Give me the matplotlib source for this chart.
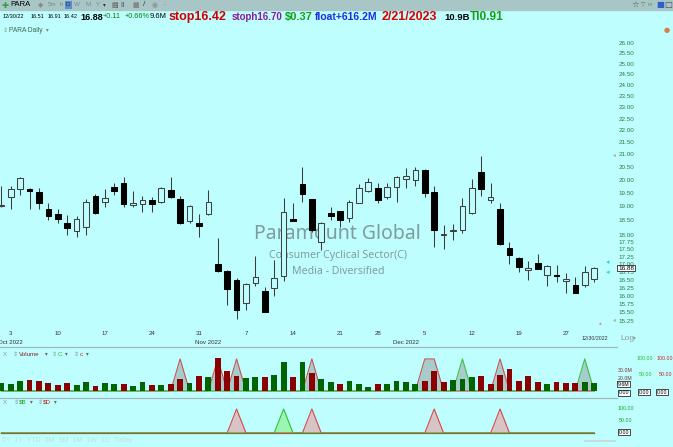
import numpy as np
import matplotlib
matplotlib.use('Agg')
import matplotlib.pyplot as plt
from matplotlib.ticker import FixedLocator, NullLocator
from matplotlib.patches import Rectangle

plt.rcParams['font.family'] = ['Liberation Sans', 'DejaVu Sans']

W, H = 673, 447
BG = '#bffefe'

# daily candles, Sep 30 2022 .. Dec 30 2022
opens = [19.03, 19.36, 19.64, 19.63, 19.55, 18.90, 18.71, 18.39, 18.11, 18.27,
         19.39, 19.16, 19.73, 19.87, 19.04, 19.08, 19.22, 19.16, 19.61, 19.28,
         18.46, 18.39, 18.72, 17.00, 16.79, 16.49, 15.77, 16.39, 16.16, 16.23,
         16.63, 18.53, 19.82, 19.26, 17.75, 18.75, 18.84, 18.57, 19.12, 19.58,
         19.67, 19.36, 19.73, 20.02, 19.99, 20.36, 19.52, 18.00, 18.11, 18.16,
         18.77, 20.30, 19.24, 18.91, 17.53, 17.22, 16.81, 17.05, 16.64, 16.63,
         16.46, 16.35, 16.33, 16.51]
highs = [19.76, 19.76, 20.10, 19.70, 19.70, 19.12, 18.90, 18.68, 18.65, 19.26,
         19.45, 19.63, 19.86, 20.10, 19.57, 19.38, 19.36, 19.72, 20.10, 19.38,
         19.05, 18.72, 19.61, 17.87, 16.80, 16.55, 16.39, 17.27, 16.28, 17.14,
         19.30, 19.12, 20.51, 19.26, 18.45, 18.99, 18.84, 19.24, 19.82, 20.06,
         19.86, 19.86, 20.15, 20.45, 20.49, 20.41, 19.76, 18.34, 18.37, 19.30,
         20.02, 20.92, 19.89, 19.12, 17.73, 17.24, 17.09, 17.33, 16.96, 16.97,
         16.72, 16.59, 16.95, 16.91]
lows = [18.99, 18.92, 19.42, 18.92, 18.92, 18.51, 18.42, 17.99, 17.92, 17.99,
        18.74, 18.97, 19.42, 18.99, 18.99, 18.81, 18.81, 19.14, 19.30, 18.37,
        18.42, 17.92, 18.68, 16.76, 15.72, 15.29, 15.57, 16.30, 15.50, 16.00,
        16.46, 18.49, 19.18, 18.10, 17.47, 18.51, 18.25, 18.45, 19.12, 19.55,
        19.12, 19.26, 19.18, 19.67, 19.76, 19.34, 17.59, 17.49, 17.81, 18.04,
        18.72, 19.38, 19.12, 17.63, 17.00, 16.76, 16.49, 16.83, 16.30, 16.44,
        16.07, 16.07, 16.28, 16.42]
closes = [19.06, 19.63, 20.06, 19.56, 19.12, 18.65, 18.56, 18.24, 18.53, 19.16,
          18.76, 19.30, 19.58, 19.09, 19.12, 19.23, 19.10, 19.67, 19.34, 18.39,
          19.01, 18.31, 19.16, 16.78, 16.21, 15.57, 16.36, 16.58, 15.52, 16.55,
          18.81, 18.49, 19.45, 18.14, 18.39, 18.65, 18.51, 19.16, 19.67, 19.90,
          19.24, 19.73, 20.10, 20.16, 20.36, 19.51, 18.14, 18.02, 18.15, 19.01,
          19.67, 19.64, 19.36, 17.67, 17.30, 16.91, 16.88, 16.85, 16.94, 16.62,
          16.52, 16.10, 16.76, 16.88]
# volume, millions of shares
volumes = [12.3, 11.3, 14.9, 16.4, 14.9, 12.3, 8.7, 12.3, 9.2, 14.4,
           7.2, 12.3, 10.3, 10.3, 8.2, 13.3, 9.7, 9.7, 11.3, 17.9,
           12.3, 23.6, 21.0, 50.8, 30.3, 23.6, 20.0, 21.5, 21.0, 25.1,
           44.1, 21.0, 44.1, 27.7, 19.0, 14.4, 11.3, 15.9, 11.3, 6.2,
           10.8, 10.8, 15.4, 13.8, 10.3, 15.9, 30.3, 14.4, 16.4, 18.5,
           21.0, 23.6, 11.3, 24.6, 34.4, 15.9, 22.6, 13.8, 11.3, 13.3,
           12.3, 12.3, 14.4, 12.3]
# signal days (bar index) for the 0/100 indicators
C_days = [49, 62]
c_days = [19, 23, 25, 33, 45, 46, 53]
B_days = [30]
D_days = [25, 33, 46, 53]

day_idx = [1, 6, 11, 16, 21, 26, 31, 36, 40, 45, 50, 55, 60]
day_labels = ['3', '10', '17', '24', '31', '7', '14', '21', '28', '5', '12', '19', '27']
month_idx = [1, 22, 43]
month_labels = ['Oct 2022', 'Nov 2022', 'Dec 2022']

price_ticks = [26.0, 25.5, 25.0, 24.5, 24.0, 23.5, 23.0, 22.5, 22.0, 21.5, 21.0,
               20.5, 20.0, 19.5, 19.0, 18.5, 18.0, 17.75, 17.5, 17.25, 17.0,
               16.75, 16.5, 16.25, 16.0, 15.75, 15.5, 15.25]


def rect(x0, y0, x1, y1):
    return [x0 / W, 1 - y1 / H, (x1 - x0) / W, (y1 - y0) / H]


def ftext(x, y, s, **kw):
    kw.setdefault('va', 'center')
    fig.text(x / W, 1 - y / H, s, **kw)


def signal(days, n):
    s = np.zeros(n)
    s[days] = 100
    return s


n = len(closes)
x = np.arange(n)
o = np.array(opens)
c = np.array(closes)
XLIM = (-0.14, 63.62)

fig = plt.figure(figsize=(W / 100, H / 100), dpi=100, facecolor=BG)

# toolbar strip
fig.patches.append(Rectangle((0, 1 - 10 / H), 1, 10 / H, transform=fig.transFigure,
                             color='#a9c6c6', zorder=0))

# ---- price panel
ax = fig.add_axes(rect(0, 35, 600, 325))
ax.set_facecolor('none')
ax.set_yscale('log')
ax.set_xlim(*XLIM)
ax.set_ylim(15.125, 26.42)
ax.vlines(x, lows, highs, color='#3c3c3c', lw=0.75, zorder=2)
up = c >= o
bot = np.minimum(o, c)
hgt = np.maximum(np.abs(c - o), 0.02)
ax.bar(x, hgt, bottom=bot, width=0.6,
       color=[BG if u else 'black' for u in up],
       edgecolor=['#404040' if u else 'black' for u in up], linewidth=0.75, zorder=3)
ax.yaxis.tick_right()
ax.yaxis.set_major_locator(FixedLocator(price_ticks))
ax.yaxis.set_minor_locator(NullLocator())
ax.set_yticklabels(['%.2f' % t for t in price_ticks])
ax.tick_params(axis='y', length=0, pad=13.5, labelsize=4.5, labelcolor='#23803f')
ax.set_xticks(day_idx)
ax.set_xticklabels(day_labels)
ax.tick_params(axis='x', length=0, pad=4.5, labelsize=4.4, labelcolor='#333333')
for s in ax.spines.values():
    s.set_visible(False)
for i, lab in zip(month_idx, month_labels):
    ax.text(i, -0.06, lab, transform=ax.get_xaxis_transform(), ha='center', va='center',
            fontsize=4.4, color='#333333')

# watermark
ax.text(0.563, 0.314, 'Paramount Global', transform=ax.transAxes, ha='center', va='center',
        fontsize=14, color='#7f9c9c', family='Noto Sans', zorder=1)
ax.text(0.563, 0.238, 'Consumer Cyclical Sector(C)', transform=ax.transAxes, ha='center',
        va='center', fontsize=7.6, color='#7f9c9c', family='Noto Sans', zorder=1)
ax.text(0.563, 0.183, 'Media - Diversified', transform=ax.transAxes, ha='center',
        va='center', fontsize=7.6, color='#7f9c9c', family='Noto Sans', zorder=1)

# last price marker
ftext(618, 268, '%.2f' % closes[-1], fontsize=4.6, color='black', zorder=10,
      bbox=dict(boxstyle='square,pad=0.15', fc='white', ec='black', lw=0.5))
ftext(606, 263, '\u25c2', fontsize=5, color='#20d8e0')
ftext(606, 273, '\u25c2', fontsize=5, color='#20d8e0')
ftext(613, 155, '\u25c2', fontsize=4, color='#b0a0a0')
ftext(613, 320, '\u25c2', fontsize=4, color='#b0a0a0')
ftext(599, 323, '\u25b4', fontsize=4, color='#b0a0a0')
ftext(582, 338, '12/30/2022', fontsize=3.8, color='#333333')
ftext(620, 338, 'Log', fontsize=6, color='#8a9a9a')
ftext(633, 338, '\u25be', fontsize=4, color='#8a9a9a')

# separators
for yy in (347, 398):
    fig.add_artist(plt.Line2D([0, 617 / W], [1 - yy / H] * 2, color='#a2b8b8', lw=0.9))

# ---- volume panel with C / c indicators
ax_i = fig.add_axes(rect(0, 349, 600, 395))
ax_i.set_xlim(*XLIM)
ax_i.set_ylim(-12.5, 131)
ax_i.axis('off')
for days, col in ((c_days, '#d05050'), (C_days, '#40c040')):
    s = signal(days, n)
    ax_i.fill_between(x, 0, s, color='#a6cccc', lw=0)
    ax_i.plot(x, s, color=col, lw=0.8)

ax_v = fig.add_axes(rect(0, 349, 600, 395))
ax_v.set_facecolor('none')
ax_v.set_xlim(*XLIM)
ax_v.set_ylim(-6.15, 64.6)
vcol = ['#006400' if i == 0 or closes[i] >= closes[i - 1] else '#8b0000' for i in range(n)]
ax_v.bar(x, volumes, width=0.62, color=vcol, zorder=3)
ax_v.axis('off')

ftext(3, 354, 'X', fontsize=4.5, color='#8a9a9a')
ftext(13, 354, '\u21d5', fontsize=4.5, color='#8a9a9a', family='DejaVu Sans')
ftext(19, 354, 'Volume', fontsize=4.5, color='#8b2020')
ftext(45, 354, '\u25be', fontsize=4, color='#666666', family='DejaVu Sans')
ftext(52, 354, '\u21d5', fontsize=4.5, color='#8a9a9a', family='DejaVu Sans')
ftext(58, 354, 'C', fontsize=4.5, color='#20c020')
ftext(65, 354, '\u25be', fontsize=4, color='#666666', family='DejaVu Sans')
ftext(74, 354, '\u21d5', fontsize=4.5, color='#8a9a9a', family='DejaVu Sans')
ftext(80, 354, 'c', fontsize=4.5, color='#d02020')
ftext(86, 354, '\u25be', fontsize=4, color='#666666', family='DejaVu Sans')

ftext(618, 371, '30.0M', fontsize=3.8, color='#7a3030')
ftext(618, 378, '20.0M', fontsize=3.8, color='#7a3030')
ftext(618, 384, '%.1fM' % 9.6, fontsize=3.8, color='black',
      bbox=dict(boxstyle='square,pad=0.15', fc='white', ec='black', lw=0.5))
ftext(619, 393, '0.00', fontsize=3.8, color='black',
      bbox=dict(boxstyle='square,pad=0.15', fc='white', ec='black', lw=0.5))
ftext(637, 359, '100.00', fontsize=3.8, color='#20c020')
ftext(639, 375, '50.00', fontsize=3.8, color='#20c020')
ftext(639, 392, '0.00', fontsize=3.8, color='black',
      bbox=dict(boxstyle='square,pad=0.15', fc='white', ec='black', lw=0.5))
ftext(657, 359, '100.00', fontsize=3.8, color='#d02020')
ftext(659, 375, '50.00', fontsize=3.8, color='#d02020')
ftext(657, 392, '0.00', fontsize=3.8, color='black',
      bbox=dict(boxstyle='square,pad=0.15', fc='white', ec='black', lw=0.5))

# ---- $B / $D panel
ax_b = fig.add_axes(rect(0, 400, 600, 437))
ax_b.set_facecolor('none')
ax_b.set_xlim(*XLIM)
ax_b.set_ylim(-16.7, 137.5)
ax_b.axis('off')
for days, col, fc in ((D_days, '#d84848', '#d6c4c6'), (B_days, '#30c030', '#9cf5b2')):
    s = signal(days, n)
    ax_b.fill_between(x, 0, s, color=fc, lw=0)
    ax_b.plot(x, s, color=col, lw=0.8)
ax_b.plot(x, np.zeros(n), color='#8a6a30', lw=0.9)

ftext(3, 402, 'X', fontsize=4.5, color='#8a9a9a')
ftext(14, 402, '\u21d5', fontsize=4.5, color='#8a9a9a', family='DejaVu Sans')
ftext(19, 402, '$B', fontsize=4.5, color='#20a020')
ftext(30, 402, '\u25be', fontsize=4, color='#666666', family='DejaVu Sans')
ftext(38, 402, '\u21d5', fontsize=4.5, color='#8a9a9a', family='DejaVu Sans')
ftext(43, 402, '$D', fontsize=4.5, color='#c02020')
ftext(54, 402, '\u25be', fontsize=4, color='#666666', family='DejaVu Sans')
ftext(618, 409, '100.00', fontsize=3.8, color='#20a020')
ftext(619, 421, '50.00', fontsize=3.8, color='#20a020')
ftext(619, 432, '0.00', fontsize=3.8, color='black',
      bbox=dict(boxstyle='square,pad=0.15', fc='white', ec='black', lw=0.5))

ftext(2, 441, '5Y  1Y  YTD  6M  3M  1M  1W  1D  Today', fontsize=5, color='#c4dcdc')
fig.add_artist(plt.Line2D([585 / W, 615 / W], [1 - 441 / H] * 2, color='#c8d4d4', lw=1.2))

# ---- toolbar and info rows
ftext(1, 5, '\u271a', fontsize=6, color='#30a030', family='DejaVu Sans')
ftext(10, 5, 'PARA', fontsize=5.5, color='black')
ftext(38, 5, '\u25c6', fontsize=5, color='#8a8a8a', family='DejaVu Sans')
ftext(48, 5, '5m', fontsize=4.5, color='#7a8a8a')
ftext(60, 5, 'h', fontsize=4.5, color='#7a8a8a')
ftext(66, 5, 'D', fontsize=4.5, color='#203040',
      bbox=dict(boxstyle='square,pad=0.2', fc='#5a8ed0', ec='none'))
ftext(74, 5, 'W', fontsize=4.5, color='#7a8a8a')
ftext(85, 5, 'M', fontsize=4.5, color='#7a8a8a')
ftext(96, 5, 'Y', fontsize=4.5, color='#7a8a8a')
ftext(103, 5, '\u25be', fontsize=4, color='#333333', family='DejaVu Sans')
ftext(111, 5, '\u25a4', fontsize=5, color='#505050', family='DejaVu Sans')
ftext(120, 5, '\u2161', fontsize=5, color='#505050', family='DejaVu Sans')
ftext(132, 5, '\u25a6', fontsize=5, color='#707070', family='DejaVu Sans')
ftext(143, 5, '/', fontsize=6, color='#404040')
ftext(152, 5, '\u25c9', fontsize=5, color='#909090', family='DejaVu Sans')
ftext(162, 5, '\u2058', fontsize=5, color='#909090', family='DejaVu Sans')
ftext(631, 5, '\u2606', fontsize=6, color='#505050', family='DejaVu Sans')
ftext(641, 5, '\u25bd', fontsize=4, color='#707070', family='DejaVu Sans')
ftext(648, 5, 'RT', fontsize=3, color='#30a030')
ftext(656, 5, '\u25a0', fontsize=6, color='#3060d0', family='DejaVu Sans')
ftext(664, 5, '\u25a1', fontsize=6, color='#505050', family='DejaVu Sans')

info = [
    (3, '12/30/22', 'black', 4.0, 'normal'),
    (31, '%.2f' % opens[-1], 'black', 4.0, 'normal'),
    (48, '%.2f' % highs[-1], 'black', 4.0, 'normal'),
    (64, '%.2f' % lows[-1], 'black', 4.0, 'normal'),
    (80, '%.2f' % closes[-1], 'black', 6.5, 'bold'),
    (103, '+0.11', '#008000', 5.2, 'normal'),
    (125, '+0.66%', '#008000', 5.2, 'normal'),
    (150, '9.6M', 'black', 5.4, 'normal'),
    (169, 'stop16.42', '#d00000', 9.0, 'bold'),
    (232, 'stoph16.70', '#8a1c9c', 7.0, 'bold'),
    (285, '$0.37', '#14a014', 8.0, 'bold'),
    (315, 'float+616.2M', '#1a2ee0', 7.5, 'bold'),
    (382, '2/21/2023', '#e00000', 9.0, 'bold'),
    (444, '10.9B', 'black', 6.8, 'bold'),
    (470, 'TI0.91', '#14a014', 8.6, 'bold'),
]
for xx, s, col, fs, fw in info:
    ftext(xx, 17, s, fontsize=fs, color=col, fontweight=fw)

ftext(3, 30, '\u21d5', fontsize=4.5, color='#8a9a9a', family='DejaVu Sans')
ftext(9, 30, 'PARA Daily', fontsize=4.8, color='#3a6a50')
ftext(46, 30, '\u25be', fontsize=4, color='#808080', family='DejaVu Sans')
ftext(664, 30, '\u25cf', fontsize=5, color='#d08040', family='DejaVu Sans')

fig.savefig('out.png', dpi=100, facecolor=BG)
